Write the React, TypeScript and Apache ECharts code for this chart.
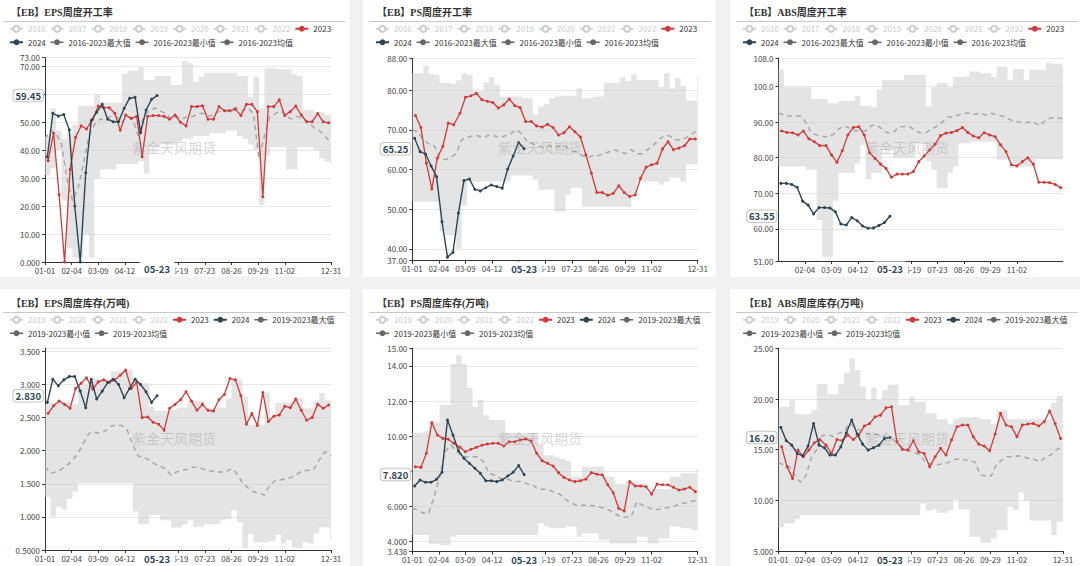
import React, { useEffect, useRef } from 'react';
import * as echarts from 'echarts';

// ---------- x axis: leap-year calendar days (MM-DD) ----------
const MONTH_LENGTHS = [31, 29, 31, 30, 31, 30, 31, 31, 30, 31, 30, 31];
const categories: string[] = [];
MONTH_LENGTHS.forEach((len, m) => {
  for (let d = 1; d <= len; d++) {
    categories.push(String(m + 1).padStart(2, '0') + '-' + String(d).padStart(2, '0'));
  }
});

const dates2023 = ['01-05', '01-12', '01-19', '01-26', '02-02', '02-09', '02-16', '02-23', '03-02', '03-09', '03-16', '03-23', '03-30', '04-06', '04-13', '04-20', '04-27', '05-04', '05-11', '05-18', '05-25', '06-01', '06-08', '06-15', '06-22', '06-29', '07-06', '07-13', '07-20', '07-27', '08-03', '08-10', '08-17', '08-24', '08-31', '09-07', '09-14', '09-21', '09-28', '10-05', '10-12', '10-19', '10-26', '11-02', '11-09', '11-16', '11-23', '11-30', '12-07', '12-14', '12-21', '12-28'];
const dates2024 = ['01-04', '01-11', '01-18', '01-25', '02-01', '02-08', '02-15', '02-22', '02-29', '03-07', '03-14', '03-21', '03-28', '04-04', '04-11', '04-18', '04-25', '05-02', '05-09', '05-16', '05-23'];
const bandDates = ['01-01', '01-08', '01-15', '01-22', '01-29', '02-05', '02-12', '02-19', '02-26', '03-04', '03-11', '03-18', '03-25', '04-01', '04-08', '04-15', '04-22', '04-29', '05-06', '05-13', '05-20', '05-27', '06-03', '06-10', '06-17', '06-24', '07-01', '07-08', '07-15', '07-22', '07-29', '08-05', '08-12', '08-19', '08-26', '09-02', '09-09', '09-16', '09-23', '09-30', '10-07', '10-14', '10-21', '10-28', '11-04', '11-11', '11-18', '11-25', '12-02', '12-09', '12-16', '12-23', '12-30', '12-31'];

// ---------- EPS weekly operating rate ----------
const epsRate2023 = [36.2, 46, 24, 0, 33, 44.5, 48.6, 47.5, 51, 55.7, 55.1, 55.1, 53.1, 47.1, 52.5, 51.3, 52, 37.6, 52, 52.3, 52.3, 52, 51, 52.5, 49.9, 48.6, 55.5, 55.5, 55.8, 51, 51, 55.5, 54, 54, 54.6, 52.3, 56.3, 56.3, 53.7, 23.3, 55.5, 55.5, 57.9, 52.3, 53.7, 55.7, 52.5, 50.1, 50.1, 53, 50.1, 49.7];
const epsRate2024 = [37.5, 53.1, 52.1, 52.7, 47.1, 20, 0, 31.9, 50.5, 53.5, 56.3, 51, 50.1, 50.1, 54.9, 58.5, 58.8, 46.2, 54.3, 58.1, 59.45];
const epsRateMax = [45, 54.9, 47, 44, 46, 49, 55.7, 55.7, 55.7, 59.6, 57, 57, 57, 57, 67.1, 68.3, 68.3, 69.5, 65, 65, 66.4, 66.4, 66.4, 63.2, 63.2, 71.8, 70.9, 64.3, 66.2, 67.6, 67.6, 67.6, 67.6, 67.6, 67.6, 66.4, 66.4, 59, 66.2, 54.9, 69.2, 69.2, 68.8, 68.8, 68.8, 67, 66.4, 54.3, 54.3, 53.5, 53.5, 52.5, 52.5, 52.5];
const epsRateMin = [31, 33.5, 40, 22, 5, 1.5, 1.5, 10, 1.5, 30, 33, 33, 33, 35, 35, 35, 35, 36, 31.6, 41, 41, 42, 42, 42, 43, 44, 44, 45, 45, 45, 46, 46, 46, 47, 47, 45, 44, 42, 40, 20.4, 38, 41, 41, 41, 33, 33, 41, 41, 41, 40, 37, 36, 35, 35];
const epsRateAvg = [44, 47, 46, 42, 30, 22, 26, 35, 45, 49, 51, 51, 52, 52, 50, 52, 51, 45, 52, 54, 55, 54, 53, 51, 52, 51, 52, 52, 53, 53, 52, 53, 54, 54, 55, 55, 54, 55, 53, 37, 45, 52, 53, 54, 52, 51, 52, 51, 50, 48, 47, 45, 43, 43];

// ---------- PS weekly operating rate ----------
const psRate2023 = [73.6, 70.6, 61.6, 55.1, 62.9, 65.8, 71.7, 71.3, 74.2, 78.2, 78.6, 79.2, 77.6, 77.2, 76.9, 75.5, 76.3, 77.8, 76.1, 75.6, 72.1, 72.1, 71, 70.7, 71.4, 70.6, 68.7, 69.3, 70.8, 69.5, 68.2, 63.7, 59.1, 54.2, 54.2, 53.5, 54, 55.9, 54.2, 53.2, 53.6, 57.8, 60.6, 61.2, 61.6, 65.2, 67, 65, 65.4, 66, 67.7, 67.7];
const psRate2024 = [67.9, 64.5, 63.9, 60.9, 58.2, 46.8, 37.9, 39.1, 49, 57.2, 57.6, 55, 54.6, 55.4, 56.1, 55.7, 55.3, 60.1, 63.4, 66.8, 65.25];
const psRateMax = [84.3, 84.3, 86.2, 84.1, 83.9, 81.8, 81.8, 81.6, 82.5, 84.3, 83.9, 79.7, 79.7, 82, 83.3, 81.4, 78.4, 78.4, 78.4, 78.4, 78, 78, 73.8, 75.9, 76.6, 78, 78.4, 78.6, 78.6, 78.6, 80.5, 78, 78, 78.4, 78.4, 81.8, 81.8, 81.8, 83.3, 82.3, 83.9, 82.6, 82.6, 82.6, 82.6, 80.8, 84.3, 80.5, 83, 81.1, 77.4, 77.4, 83.5, 83.5];
const psRateMin = [51.9, 51.9, 51.9, 51.9, 51.9, 44.4, 43.5, 43.5, 40, 50.9, 57, 57, 57, 57, 57, 57, 57, 57, 58.5, 58.5, 58.5, 58.5, 57.4, 54.9, 54.9, 54.9, 49.4, 49.4, 53.7, 55.4, 55.4, 50.6, 50.6, 50.6, 50.6, 50.6, 50.6, 50.6, 50.6, 50.6, 53.7, 57, 57, 57, 57, 56.2, 57, 57.9, 57.9, 57, 61.3, 61.3, 61.3, 61.3];
const psRateAvg = [70, 69.5, 67.5, 66.5, 66, 63, 62.5, 63, 64, 67.5, 68, 68.5, 68.5, 68, 68.7, 68.5, 68, 68.5, 69, 70, 69, 67, 66.5, 66, 65.5, 66, 65.5, 66, 65.8, 64.8, 64.5, 63.5, 63, 63.5, 63.5, 64, 64.5, 65, 64.5, 64, 65, 64, 64, 65, 66, 67.5, 68.5, 68.5, 67.5, 67.5, 68, 69, 69.7, 69.8];

// ---------- ABS weekly operating rate ----------
const absRate2023 = [87.5, 87.1, 87, 86.4, 87.5, 85.3, 84.5, 83.4, 83.4, 80.8, 78.7, 82, 86.4, 88.5, 88.7, 86.4, 81.4, 79.8, 78.2, 77, 74.5, 75.4, 75.4, 75.4, 76.1, 78.9, 80.5, 82.2, 83.8, 86.2, 86.9, 87.1, 87.6, 88.5, 87.1, 86.1, 85.6, 87, 86.4, 85.9, 83.6, 81.7, 78, 77.7, 78.9, 80, 78.2, 73.1, 73.1, 73, 72.5, 71.6];
const absRate2024 = [72.8, 72.8, 72.5, 71.7, 67.8, 66.7, 64.2, 66, 66, 65.9, 64.8, 61.4, 61.1, 63.2, 62.3, 60.8, 60.2, 60.3, 61, 61.8, 63.55];
const absRateMax = [104.8, 99.8, 99.8, 99.8, 99.8, 99.8, 96.5, 96.5, 96.5, 95.3, 95.3, 95.9, 95.9, 96, 97.3, 94.5, 94.5, 94.2, 99.2, 101.8, 101.8, 101.8, 101.8, 103.2, 103.2, 103.2, 103.2, 94.5, 99.8, 101, 101, 99.8, 102.7, 102.7, 102.9, 104.2, 104.2, 103.7, 103.7, 102.7, 105.6, 105.6, 101.9, 104.9, 104.9, 101.9, 104.7, 104.7, 104.7, 106.7, 106.4, 106.4, 105.6, 105.6];
const absRateMin = [77.5, 77.5, 77.5, 77.5, 77.5, 76.6, 76.6, 62.5, 52.2, 52.2, 67.9, 75.8, 75.8, 75.8, 78.4, 83.6, 74, 75.8, 75.8, 82.2, 82.2, 80, 80, 80, 80, 84, 84, 79, 76.6, 71.4, 71.4, 75.8, 77.5, 84, 84, 84.5, 84.5, 84.5, 84.5, 84.5, 79.4, 79.4, 79.4, 77.5, 77.5, 77.5, 77.5, 79.6, 79.6, 79.6, 79.6, 79.6, 79.6, 79.6];
const absRateAvg = [92.5, 92, 91.7, 91.7, 91.7, 90, 87, 86.4, 86, 85.8, 86.5, 88, 89, 88.3, 87.6, 87.6, 87.5, 89, 89.2, 88, 87, 87, 88.5, 88.8, 88.8, 87.6, 87, 87, 88, 88.8, 90, 91.4, 91.4, 92, 92.5, 92.5, 92.2, 92.5, 92, 92.5, 92, 91.7, 91, 90.3, 90, 89.8, 90, 89.8, 89, 90.7, 91.2, 91.2, 91, 91];

// ---------- EPS weekly inventory ----------
const epsInv2023 = [2.565, 2.68, 2.75, 2.70, 2.64, 2.94, 3.02, 3.10, 2.93, 3.04, 3.07, 3.03, 3.07, 3.14, 3.22, 2.94, 3.03, 2.50, 2.51, 2.43, 2.40, 2.31, 2.64, 2.70, 2.77, 2.89, 2.75, 2.61, 2.70, 2.61, 2.60, 2.77, 2.85, 3.09, 3.07, 2.83, 2.40, 2.56, 2.38, 2.88, 2.44, 2.52, 2.54, 2.67, 2.65, 2.78, 2.61, 2.46, 2.50, 2.70, 2.64, 2.69];
const epsInv2024 = [2.73, 3.08, 2.98, 3.07, 3.12, 3.12, 2.9, 2.65, 3.08, 2.78, 2.90, 3.03, 3.08, 3.00, 2.80, 2.94, 3.08, 3.00, 2.89, 2.73, 2.83];
const epsInvMax = [2.7, 2.72, 2.72, 2.72, 2.74, 2.70, 3.0, 3.0, 3.08, 3.08, 3.08, 3.08, 3.2, 3.2, 3.2, 3.22, 3.09, 3.02, 3.02, 2.66, 2.6, 2.6, 2.6, 2.62, 2.65, 2.65, 2.75, 2.75, 2.75, 2.65, 2.65, 2.65, 2.65, 2.79, 3.07, 3.07, 2.81, 2.39, 2.39, 2.39, 2.88, 2.48, 2.72, 2.72, 2.72, 2.76, 2.79, 2.64, 2.64, 2.76, 2.87, 2.76, 2.76, 2.76];
const epsInvMin = [1.30, 1.01, 1.15, 1.11, 1.27, 1.38, 1.51, 1.51, 1.51, 1.51, 1.51, 1.51, 1.51, 1.51, 1.51, 1.51, 1.08, 0.89, 0.89, 1.03, 1.03, 0.95, 0.95, 0.84, 0.84, 0.89, 0.95, 0.85, 0.85, 0.9, 0.89, 0.89, 0.95, 0.97, 1.10, 0.92, 0.53, 0.74, 0.61, 0.62, 0.62, 0.64, 0.73, 0.6, 0.65, 0.54, 0.53, 0.62, 0.6, 0.75, 0.84, 0.84, 0.64, 0.64];
const epsInvAvg = [1.76, 1.66, 1.68, 1.72, 1.78, 1.85, 1.96, 2.11, 2.26, 2.28, 2.26, 2.30, 2.37, 2.39, 2.38, 2.31, 2.09, 1.92, 1.90, 1.86, 1.80, 1.77, 1.72, 1.63, 1.68, 1.70, 1.72, 1.75, 1.75, 1.72, 1.70, 1.68, 1.68, 1.68, 1.73, 1.65, 1.52, 1.44, 1.38, 1.36, 1.33, 1.48, 1.55, 1.56, 1.58, 1.6, 1.65, 1.70, 1.70, 1.72, 1.86, 1.98, 1.94, 1.93];

// ---------- PS weekly inventory ----------
const psInv2023 = [8.27, 8.23, 9.03, 10.77, 10.07, 9.88, 9.83, 9.6, 9.37, 9.12, 9.26, 9.37, 9.49, 9.56, 9.6, 9.6, 9.45, 9.69, 9.69, 9.79, 9.85, 9.73, 9.03, 8.61, 8.46, 8.31, 7.93, 7.66, 7.51, 7.42, 7.47, 7.56, 7.93, 7.84, 7.8, 7.24, 6.79, 5.90, 5.75, 7.42, 7.17, 7.17, 7.13, 6.71, 7.28, 7.24, 7.24, 7.10, 6.94, 7.0, 7.1, 6.85];
const psInv2024 = [7.17, 7.51, 7.38, 7.38, 7.55, 7.95, 10.93, 10.07, 9.18, 8.75, 8.46, 8.18, 7.89, 7.47, 7.47, 7.42, 7.51, 7.74, 7.95, 8.33, 7.82];
const psInvMax = [10.2, 10.2, 10.3, 10.9, 10.8, 11.78, 11.78, 14.11, 14.59, 14.11, 12.77, 11.68, 12.06, 11.2, 10.93, 10.93, 10.93, 10.19, 10.19, 10.19, 10.19, 10.19, 10.19, 9.5, 8.92, 8.92, 8.8, 8.7, 8.6, 7.7, 7.7, 8.27, 8.27, 8.27, 8.27, 7.7, 7.7, 7.3, 7.3, 7.45, 7.42, 7.3, 7.3, 6.75, 7.0, 7.0, 7.0, 7.7, 7.7, 7.89, 7.89, 7.89, 8.18, 8.18];
const psInvMin = [4.38, 4.38, 4.38, 3.87, 3.87, 3.8, 3.8, 4.28, 4.38, 4.38, 4.38, 4.38, 4.38, 4.38, 4.38, 4.38, 4.38, 4.38, 4.38, 4.38, 4.38, 4.38, 4.38, 5.05, 4.87, 4.77, 4.77, 4.77, 4.87, 4.87, 4.28, 4.47, 4.47, 4.47, 4.1, 4.1, 3.9, 3.9, 3.9, 3.9, 3.9, 4.28, 4.28, 3.9, 3.9, 4.19, 4.19, 4.87, 4.87, 4.77, 4.77, 4.67, 4.67, 4.67];
const psInvAvg = [5.9, 5.8, 5.62, 5.62, 6.56, 7.7, 9.12, 9.5, 9.2, 8.84, 8.84, 8.84, 8.84, 8.55, 7.89, 7.8, 7.6, 7.6, 7.5, 7.42, 7.42, 7.3, 7.24, 6.98, 6.98, 6.95, 6.8, 6.7, 6.4, 6.2, 6.08, 6.08, 6.08, 6.05, 6.0, 5.9, 5.8, 5.6, 5.43, 5.4, 5.4, 6.27, 6.1, 5.95, 5.81, 5.85, 5.9, 5.96, 6.05, 6.17, 6.22, 6.3, 6.36, 6.38];

// ---------- ABS weekly inventory ----------
const absInv2023 = [15.29, 13.31, 12.17, 14.96, 14.3, 14.96, 15.68, 16.0, 15.45, 14.63, 16.0, 15.9, 16.44, 16.0, 16.44, 17.33, 17.59, 18.24, 18.41, 19.13, 19.23, 15.78, 15.03, 14.96, 15.88, 14.79, 14.63, 13.31, 14.3, 15.13, 14.47, 15.95, 17.26, 17.43, 17.43, 16.27, 15.55, 15.36, 14.89, 16.54, 18.58, 17.43, 17.26, 16.27, 17.43, 17.53, 17.59, 17.33, 17.75, 18.81, 17.59, 16.11];
const absInv2024 = [17.2, 15.88, 15.45, 14.63, 14.4, 15.36, 17.59, 15.45, 15.19, 14.47, 14.47, 15.29, 16.67, 17.92, 16.54, 15.55, 14.96, 15.2, 15.45, 16.11, 16.2];
const absInvMax = [19.23, 19.23, 19.89, 18.5, 18.5, 18.5, 18.9, 21.47, 21.47, 20.45, 20.45, 21.5, 22.6, 24.0, 22.85, 21.2, 19.89, 21.1, 19.89, 20.88, 21.44, 21.44, 19.4, 19.4, 20.22, 19.72, 19.72, 18.58, 18.58, 18.0, 18.0, 17.5, 18.0, 18.2, 18.2, 18.2, 18.2, 18.0, 18.0, 17.5, 18.9, 18.9, 18.0, 18.0, 18.0, 18.0, 18.0, 18.0, 18.0, 18.0, 19.6, 20.3, 20.3, 20.3];
const absInvMin = [7.34, 7.73, 7.73, 8.13, 8.55, 8.55, 8.55, 8.55, 8.55, 8.55, 8.55, 8.55, 8.55, 8.55, 8.55, 8.55, 8.55, 8.55, 8.55, 8.55, 8.55, 8.55, 8.55, 8.55, 8.55, 8.55, 9.7, 8.97, 9.1, 8.77, 8.77, 9.0, 10.1, 9.1, 9.1, 6.41, 6.41, 5.82, 5.82, 6.25, 7.07, 7.07, 9.38, 9.05, 10.75, 10.0, 8.03, 8.03, 8.03, 8.03, 6.58, 7.9, 7.9, 7.9];
const absInvAvg = [13.71, 13.5, 13.31, 12.49, 11.8, 12.4, 14.2, 15.0, 16.4, 16.5, 16.3, 16.6, 16.8, 17.6, 17.2, 16.9, 16.6, 16.5, 16.5, 16.4, 16.2, 16.0, 15.5, 15.2, 14.9, 14.7, 14.5, 13.7, 13.6, 13.5, 13.6, 13.7, 14.0, 14.1, 14.0, 13.9, 13.8, 12.5, 12.4, 12.4, 13.6, 14.0, 14.3, 14.3, 14.4, 14.3, 14.1, 14.0, 13.8, 14.3, 14.5, 15.0, 15.3, 15.3];

const yearsRate = ['2016', '2017', '2018', '2019', '2020', '2021', '2022'];
const yearsInv = ['2019', '2020', '2021', '2022'];

// ---------- style ----------
const RED = '#d13a3a';
const NAVY = '#2f4554';
const BAND = 'rgba(205,205,205,0.55)';
const GREY_ICON = '#666';
const FONT = '"Noto Sans CJK SC", "Noto Sans", sans-serif';
const TITLE_FONT = '"Liberation Serif", "Noto Sans CJK SC", serif';

type Panel = {
  id: string;
  title: string;
  years: string[];
  range: string;
  v2023: number[];
  v2024: number[];
  max: number[];
  min: number[];
  avg: number[];
  yMin: number;
  yMax: number;
  showMaxLabel: boolean;
  hideEnds: boolean;
  box: { x: number; y: number; w: number; h: number };
  grid: { left: number; top: number; width: number; height: number };
};

const panels: Panel[] = [
  { id: 'eps-rate', title: '【EB】EPS周度开工率', years: yearsRate, range: '2016-2023', v2023: epsRate2023, v2024: epsRate2024, max: epsRateMax, min: epsRateMin, avg: epsRateAvg, yMin: 0, yMax: 73, showMaxLabel: true, hideEnds: false, box: { x: -3, y: -2, w: 353, h: 279 }, grid: { left: 48, top: 59.6, width: 286, height: 204.4 } },
  { id: 'ps-rate', title: '【EB】PS周度开工率', years: yearsRate, range: '2016-2023', v2023: psRate2023, v2024: psRate2024, max: psRateMax, min: psRateMin, avg: psRateAvg, yMin: 37, yMax: 88, showMaxLabel: true, hideEnds: false, box: { x: 363, y: -2, w: 353, h: 279 }, grid: { left: 49.3, top: 60.5, width: 285.4, height: 202.2 } },
  { id: 'abs-rate', title: '【EB】ABS周度开工率', years: yearsRate, range: '2016-2023', v2023: absRate2023, v2024: absRate2024, max: absRateMax, min: absRateMin, avg: absRateAvg, yMin: 51, yMax: 108, showMaxLabel: true, hideEnds: true, box: { x: 730, y: -2, w: 353, h: 279 }, grid: { left: 48.5, top: 60, width: 284.4, height: 203 } },
  { id: 'eps-inv', title: '【EB】EPS周度库存(万吨)', years: yearsInv, range: '2019-2023', v2023: epsInv2023, v2024: epsInv2024, max: epsInvMax, min: epsInvMin, avg: epsInvAvg, yMin: 0.5, yMax: 3.55, showMaxLabel: false, hideEnds: false, box: { x: -3, y: 289, w: 353, h: 280 }, grid: { left: 48, top: 59.1, width: 286, height: 201.9 } },
  { id: 'ps-inv', title: '【EB】PS周度库存(万吨)', years: yearsInv, range: '2019-2023', v2023: psInv2023, v2024: psInv2024, max: psInvMax, min: psInvMin, avg: psInvAvg, yMin: 3.438, yMax: 15, showMaxLabel: true, hideEnds: false, box: { x: 363, y: 289, w: 353, h: 280 }, grid: { left: 49.3, top: 59.4, width: 285.4, height: 203.2 } },
  { id: 'abs-inv', title: '【EB】ABS周度库存(万吨)', years: yearsInv, range: '2019-2023', v2023: absInv2023, v2024: absInv2024, max: absInvMax, min: absInvMin, avg: absInvAvg, yMin: 5, yMax: 25, showMaxLabel: true, hideEnds: false, box: { x: 730, y: 289, w: 353, h: 280 }, grid: { left: 48.5, top: 59.3, width: 284.4, height: 202.8 } },
];

function buildOption(p: Panel): any {
  const maxName = p.range + '最大值';
  const minName = p.range + '最小值';
  const avgName = p.range + '均值';
  const labelShown = (idx: number) => {
    if (idx === 0 || idx === categories.length - 1) return !p.hideEnds;
    return idx % 34 === 0 && idx <= 306;
  };
  const pointerDate = dates2024[dates2024.length - 1];
  const pointerValue = p.v2024[p.v2024.length - 1];
  const greyLegend = (name: string) => ({
    name,
    itemStyle: { color: GREY_ICON, opacity: 1 },
    lineStyle: { color: GREY_ICON, opacity: 1, width: 1.5, type: 'solid' },
  });
  const selected: Record<string, boolean> = {};
  p.years.forEach((y) => (selected[y] = false));

  return {
    animation: false,
    textStyle: { fontFamily: FONT },
    title: {
      text: p.title,
      left: 14,
      top: 9,
      padding: 0,
      textStyle: { fontSize: 10, fontWeight: 'bold', color: '#333', fontFamily: TITLE_FONT },
    },
    graphic: [
      { type: 'line', shape: { x1: 6, y1: 23.5, x2: 348, y2: 23.5 }, style: { stroke: '#c8c8c8', lineWidth: 1 }, silent: true },
      {
        type: 'text',
        x: 177,
        y: 149,
        z: 100,
        silent: true,
        style: { text: '紫金天风期货', fontSize: 14, fontFamily: FONT, fill: 'rgba(150,150,150,0.38)', align: 'center', verticalAlign: 'middle', textAlign: 'center', textVerticalAlign: 'middle' },
      },
    ],
    legend: {
      left: 12,
      top: 26,
      width: 345,
      padding: 0,
      itemGap: 4,
      itemWidth: 13,
      itemHeight: 7.5,
      inactiveColor: '#ccc',
      textStyle: { fontSize: 8, lineHeight: 9.5, color: '#333', fontFamily: FONT },
      selected,
      data: [
        ...p.years.map((y) => ({ name: y })),
        { name: '2023' },
        { name: '2024' },
        greyLegend(maxName),
        greyLegend(minName),
        greyLegend(avgName),
      ],
    },
    grid: { ...p.grid, containLabel: false, outerBoundsMode: 'none' },
    xAxis: {
      type: 'category',
      data: categories,
      boundaryGap: false,
      axisLine: { show: true, lineStyle: { color: '#333', width: 1 } },
      axisTick: { show: true, interval: labelShown, length: 3, lineStyle: { color: '#333' } },
      axisLabel: { interval: labelShown, fontSize: 8, color: '#444', margin: 4 },
      splitLine: { show: false },
      axisPointer: {
        show: true,
        status: 'show',
        value: pointerDate,
        type: 'line',
        lineStyle: { opacity: 0 },
        label: { show: true, backgroundColor: '#fff', color: NAVY, fontWeight: 'bold', fontSize: 9.5, padding: [3, 5], margin: 1, shadowBlur: 0, borderWidth: 0 },
      },
    },
    yAxis: {
      type: 'value',
      min: p.yMin,
      max: p.yMax,
      splitNumber: 5,
      axisLine: { show: true, lineStyle: { color: '#333', width: 1 } },
      axisTick: { show: true, length: 3, lineStyle: { color: '#333' } },
      axisLabel: { fontSize: 8, color: '#444', margin: 5, showMaxLabel: p.showMaxLabel, formatter: (v: number) => Number(v).toPrecision(4) },
      splitLine: { show: true, lineStyle: { color: '#e6e6e6', width: 1 } },
      axisPointer: {
        show: true,
        status: 'show',
        value: pointerValue,
        type: 'line',
        lineStyle: { opacity: 0 },
        label: {
          show: true,
          formatter: (prm: any) => Number(prm.value).toPrecision(4),
          backgroundColor: '#fff',
          borderColor: '#c4c4c4',
          borderWidth: 1,
          color: NAVY,
          fontWeight: 'bold',
          fontSize: 9.5,
          padding: [1, 2],
          margin: 2,
          shadowBlur: 0,
        },
      },
    },
    series: [
      {
        name: minName,
        type: 'line',
        stack: 'band',
        step: 'end',
        symbol: 'none',
        silent: true,
        data: bandDates.map((d, i) => [d, p.min[i]]),
        lineStyle: { opacity: 0, width: 0 },
        itemStyle: { color: GREY_ICON },
        z: 1,
      },
      {
        name: maxName,
        type: 'line',
        stack: 'band',
        step: 'end',
        symbol: 'none',
        silent: true,
        data: bandDates.map((d, i) => [d, +(p.max[i] - p.min[i]).toFixed(4)]),
        lineStyle: { opacity: 0, width: 0 },
        areaStyle: { color: BAND, opacity: 1 },
        itemStyle: { color: GREY_ICON },
        z: 1,
      },
      {
        name: avgName,
        type: 'line',
        symbol: 'none',
        silent: true,
        data: bandDates.map((d, i) => [d, p.avg[i]]),
        lineStyle: { color: '#a8a8a8', width: 1.5, type: [5, 4] },
        itemStyle: { color: GREY_ICON },
        z: 2,
      },
      {
        name: '2023',
        type: 'line',
        symbol: 'circle',
        symbolSize: 3,
        showAllSymbol: true,
        data: dates2023.map((d, i) => [d, p.v2023[i]]),
        lineStyle: { color: RED, width: 1.3 },
        itemStyle: { color: RED },
        z: 3,
      },
      {
        name: '2024',
        type: 'line',
        symbol: 'circle',
        symbolSize: 3,
        showAllSymbol: true,
        data: dates2024.map((d, i) => [d, p.v2024[i]]),
        lineStyle: { color: NAVY, width: 1.4 },
        itemStyle: { color: NAVY },
        z: 4,
      },
      ...p.years.map((y) => ({ name: y, type: 'line', data: [], itemStyle: { color: '#ccc' } })),
    ],
  };
}

function Chart({ panel }: { panel: Panel }) {
  const ref = useRef<HTMLDivElement>(null);
  useEffect(() => {
    if (!ref.current) return;
    const chart = echarts.init(ref.current, null, { renderer: 'svg', width: panel.box.w, height: panel.box.h });
    chart.setOption(buildOption(panel));
    return () => chart.dispose();
  }, [panel]);
  return <div ref={ref} style={{ width: panel.box.w, height: panel.box.h }} />;
}

export default function App() {
  return (
    <div style={{ position: 'fixed', left: 0, top: 0, width: 1080, height: 566, overflow: 'hidden', background: '#f1f1f1' }}>
      {panels.map((p) => (
        <div key={p.id} style={{ position: 'absolute', left: p.box.x, top: p.box.y, width: p.box.w, height: p.box.h, background: '#fff' }}>
          <Chart panel={p} />
        </div>
      ))}
    </div>
  );
}
